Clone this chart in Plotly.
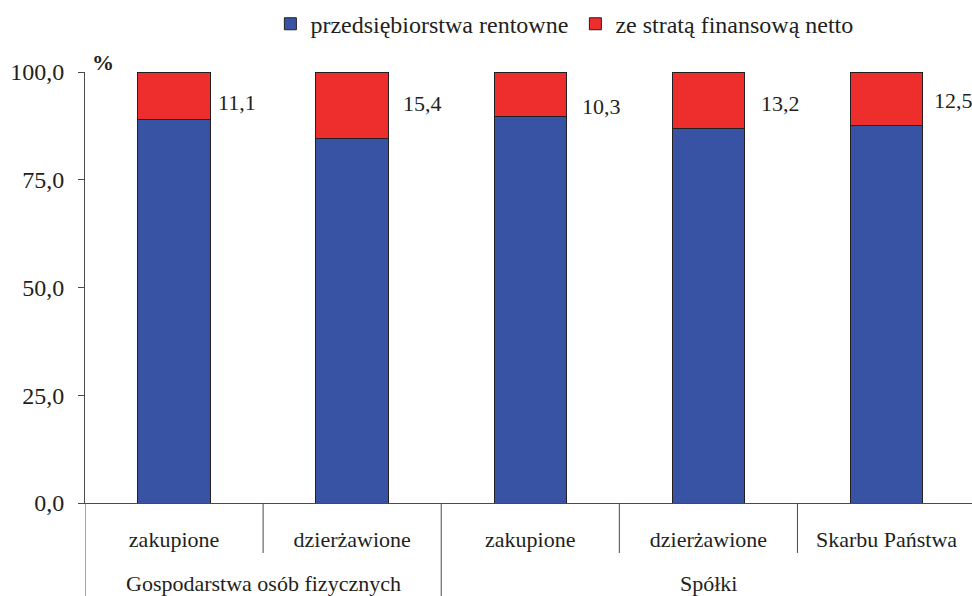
import plotly.graph_objects as go

# Categories (inner level) and their groups (outer level)
categories = ["zakupione", "dzierżawione", "zakupione", "dzierżawione", "Skarbu Państwa"]
groups = ["Gospodarstwa osób fizycznych", "Spółki"]
group_members = [[0, 1], [2, 3, 4]]

# Shares in percent
loss_share = [11.1, 15.4, 10.3, 13.2, 12.5]          # ze stratą finansową netto
profit_share = [round(100 - v, 1) for v in loss_share]  # przedsiębiorstwa rentowne

y_ticks = [0, 25, 50, 75, 100]

BLUE = "#3953A4"
RED = "#EE2E2D"
INK = "#231F20"
AXIS = "#4a4a4a"
FONT = "Liberation Serif"

x = list(range(len(categories)))

fig = go.Figure()
fig.add_trace(go.Bar(
    x=x, y=profit_share, name="przedsiębiorstwa rentowne",
    marker=dict(color=BLUE, line=dict(color=INK, width=1)),
    width=0.407, hoverinfo="skip",
))
fig.add_trace(go.Bar(
    x=x, y=loss_share, name="ze stratą finansową netto",
    marker=dict(color=RED, line=dict(color=INK, width=1)),
    width=0.407, hoverinfo="skip",
))

# Value labels to the right of each red segment
label_dx = [0.238, 0.272, 0.278, 0.286, 0.255]
label_y = [93.0, 92.8, 91.9, 92.8, 93.5]
for i, v in enumerate(loss_share):
    fig.add_annotation(
        x=x[i] + label_dx[i], y=label_y[i], xref="x", yref="y",
        text=f"{v:.1f}".replace(".", ","), showarrow=False,
        xanchor="left", yanchor="middle",
        font=dict(family=FONT, size=22, color=INK),
    )

# Outer group labels
for name, members in zip(groups, group_members):
    fig.add_annotation(
        x=(members[0] + members[-1]) / 2, y=-0.186, xref="x", yref="paper",
        text=name, showarrow=False, xanchor="center", yanchor="middle",
        font=dict(family=FONT, size=22, color=INK),
    )

# Unit label
fig.add_annotation(
    x=0.006, y=1.023, xref="paper", yref="paper", text="<b>%</b>",
    showarrow=False, xanchor="left", yanchor="middle",
    font=dict(family=FONT, size=22, color=INK),
)

# Category separators below the axis: short between categories, long between groups
shapes = []
for b in [0.5, 2.5, 3.5]:
    shapes.append(dict(type="line", xref="x", yref="paper", x0=b, x1=b, y0=0, y1=-0.116,
                       line=dict(color=AXIS, width=1)))
for b in [-0.5, 1.5]:
    shapes.append(dict(type="line", xref="x", yref="paper", x0=b, x1=b, y0=0, y1=-0.25,
                       line=dict(color=AXIS, width=1)))
fig.update_layout(shapes=shapes)

fig.update_layout(
    width=972, height=596,
    margin=dict(l=85, r=0, t=72, b=93),
    barmode="stack",
    separators=", ",
    plot_bgcolor="white", paper_bgcolor="white",
    font=dict(family=FONT, color=INK),
    showlegend=True,
    legend=dict(
        orientation="h", x=0.209, xanchor="left", y=1.111, yanchor="middle",
        font=dict(family=FONT, size=24, color=INK),
        entrywidth=260, entrywidthmode="pixels",
        traceorder="normal", itemclick=False, itemdoubleclick=False,
        bgcolor="rgba(0,0,0,0)", borderwidth=0,
    ),
    xaxis=dict(
        range=[-0.5, 4.48], tickvals=x, ticktext=categories,
        showline=True, linecolor=AXIS, linewidth=1, ticks="",
        showgrid=False, zeroline=False, fixedrange=True,
        tickfont=dict(family=FONT, size=22, color=INK),
        ticklabelstandoff=17,
    ),
    yaxis=dict(
        range=[0, 100], tickvals=y_ticks, tickformat=".1f",
        showline=True, linecolor=AXIS, linewidth=1,
        ticks="outside", ticklen=6, tickcolor=AXIS,
        showgrid=False, zeroline=False, fixedrange=True,
        tickfont=dict(family=FONT, size=24, color=INK),
        ticklabelstandoff=9,
    ),
)

fig.write_html("out.html", config={"displayModeBar": False})
